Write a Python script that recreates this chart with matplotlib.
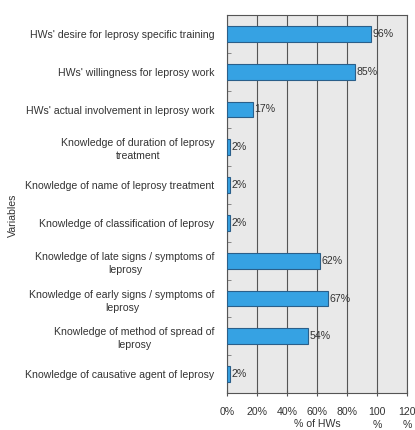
import numpy as np
import matplotlib
matplotlib.use('Agg')
import matplotlib.pyplot as plt

plt.rcParams['font.family'] = ['Liberation Sans', 'DejaVu Sans']

# Data (top to bottom as shown)
variables = [
    "HWs' desire for leprosy specific training",
    "HWs' willingness for leprosy work",
    "HWs' actual involvement in leprosy work",
    "Knowledge of duration of leprosy\ntreatment",
    "Knowledge of name of leprosy treatment",
    "Knowledge of classification of leprosy",
    "Knowledge of late signs / symptoms of\nleprosy",
    "Knowledge of early signs / symptoms of\nleprosy",
    "Knowledge of method of spread of\nleprosy",
    "Knowledge of causative agent of leprosy",
]
percent = [96, 85, 17, 2, 2, 2, 62, 67, 54, 2]
xticks = [0, 20, 40, 60, 80, 100, 120]
xtick_labels = ['0%', '20%', '40%', '60%', '80%', '100\n%', '120\n%']

fs = 7.6
fig = plt.figure(figsize=(4.15, 4.30), dpi=100)
ax = fig.add_axes([227 / 415, 1 - 393 / 430, 180 / 415, 378 / 430])

n = len(variables)
pos = np.arange(n)[::-1]

ax.set_facecolor('#e9e9e9')
ax.barh(pos, percent, height=0.42, color='#36a2e3', edgecolor='#2a5f8a', linewidth=0.8, zorder=3)

for p, v in zip(pos, percent):
    ax.text(v + 1.2, p, f'{v}%', va='center', ha='left', fontsize=fs, color='#333333', zorder=4)

ax.set_xlim(0, 120)
ax.set_ylim(-0.5, n - 0.5)
ax.set_xticks(xticks)
ax.set_xticklabels(xtick_labels, fontsize=fs, color='#333333', linespacing=1.4)
ax.set_yticks(pos)
ax.set_yticklabels(variables, fontsize=fs, color='#333333', linespacing=1.4, multialignment='center')
ax.tick_params(axis='y', length=0, pad=9)
ax.tick_params(axis='x', length=4, direction='inout', color='#555555', pad=8)

# small ticks on y axis between categories
ax.set_yticks(np.arange(-0.5, n, 1.0), minor=True)
ax.tick_params(axis='y', which='minor', length=3, direction='in', color='#777777')

ax.grid(axis='x', color='#555555', linewidth=0.8, zorder=1)
for s in ax.spines.values():
    s.set_color('#555555')
    s.set_linewidth(0.8)

fig.text(317 / 415, 1 - 424 / 430, '% of HWs', ha='center', va='center', fontsize=fs, color='#333333')
fig.text(13 / 415, 1 - 215 / 430, 'Variables', rotation=90, va='center', ha='center', fontsize=fs, color='#333333')

fig.savefig('out.png', dpi=100)
